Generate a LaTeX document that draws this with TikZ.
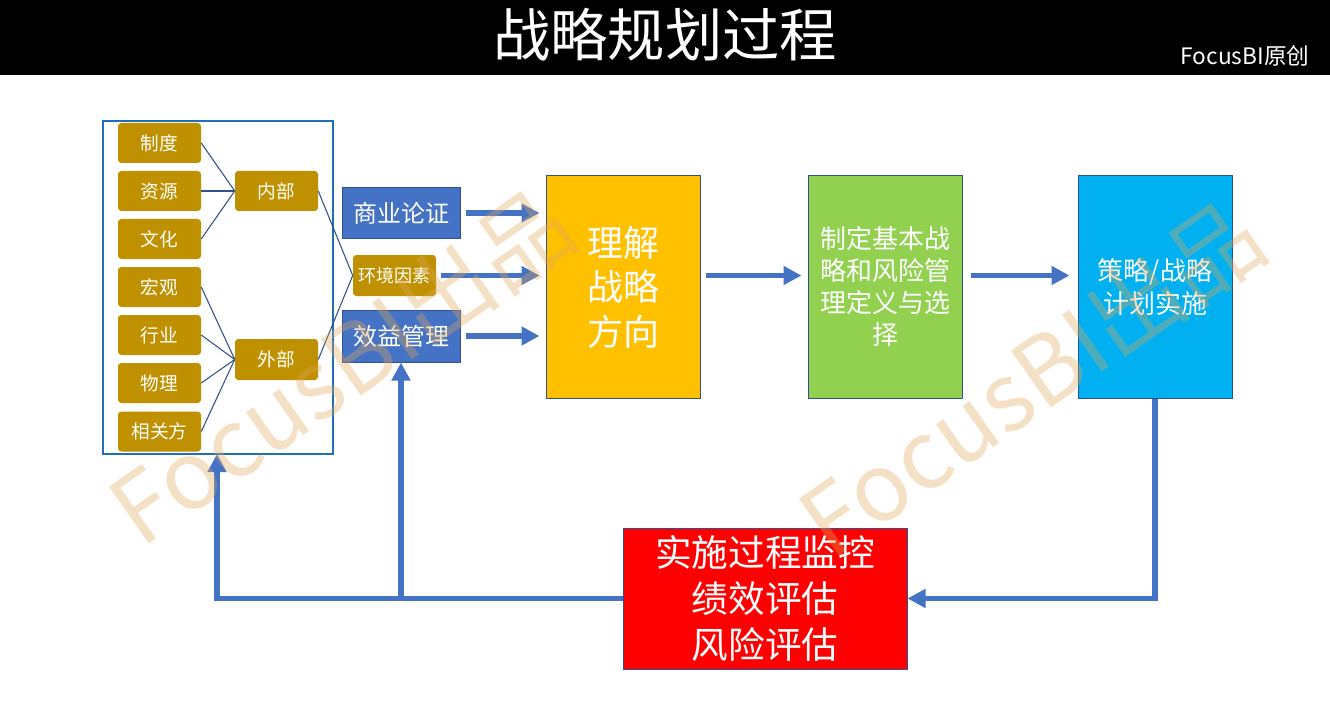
\documentclass[tikz,border=0pt]{standalone}
\usepackage{fontspec}
\setmainfont{Noto Sans CJK SC}
\usetikzlibrary{arrows.meta,calc}
\definecolor{gold}{HTML}{BF9000}
\definecolor{pblue}{HTML}{4472C4}
\definecolor{pdark}{HTML}{2F528F}
\definecolor{cframe}{HTML}{1F70B8}
\definecolor{corange}{HTML}{FFC000}
\definecolor{cgreen}{HTML}{92D050}
\definecolor{ccyan}{HTML}{00B0F0}
\definecolor{cred}{HTML}{FF0000}
\definecolor{wmark}{RGB}{225,168,90}
\tikzset{
  goldbox/.style={fill=gold, rounded corners=2.5pt, text=white, inner sep=0pt,
    minimum width=83*0.75pt, minimum height=40*0.75pt,
    font=\fontsize{14}{16}\selectfont},
  bluebox/.style={fill=pblue, draw=pdark, line width=0.75pt, text=white, inner sep=0pt,
    minimum width=118*0.75pt, minimum height=51*0.75pt,
    font=\fontsize{18}{20}\selectfont},
  bigbox/.style={draw=pdark, line width=0.75pt, text=white, inner sep=0pt, align=center,
    minimum width=154*0.75pt, minimum height=222*0.75pt},
  thin/.style={draw=pdark, line width=0.8pt},
  arr/.style={draw=pblue, line width=4pt, -{Triangle[length=13.5pt,width=13.5pt]}},
  wm/.style={text=wmark, opacity=0.35, rotate=35, inner sep=0pt,
    font=\fontsize{71}{71}\selectfont},
}
\begin{document}
\begin{tikzpicture}[x=0.75pt,y=-0.75pt]
\useasboundingbox (0,0) rectangle (1330,720);
\fill[white] (0,0) rectangle (1330,720);
\fill[black] (0,0) rectangle (1330,75);
\node[text=white, font=\fontsize{43}{46}\selectfont, inner sep=0pt] (title) at (665,35) {战略规划过程};
\node[text=white, font=\fontsize{17}{19}\selectfont, inner sep=0pt] (brand) at (1245,56) {FocusBI原创};

% container
\node[draw=cframe, line width=2pt, minimum width=230*0.75pt, minimum height=333*0.75pt, inner sep=0pt] (cont) at (218,287.5) {};

% left column
\node[goldbox] (z1) at (159.5,143) {制度};
\node[goldbox] (z2) at (159.5,191) {资源};
\node[goldbox] (z3) at (159.5,239) {文化};
\node[goldbox] (z4) at (159.5,287) {宏观};
\node[goldbox] (z5) at (159.5,335) {行业};
\node[goldbox] (z6) at (159.5,383) {物理};
\node[goldbox] (z7) at (159.5,431.5) {相关方};
\node[goldbox] (nb) at (276.5,191) {内部};
\node[goldbox, minimum height=41*0.75pt] (wb) at (276.5,359.5) {外部};
\node[goldbox, minimum height=41*0.75pt, font=\fontsize{13.5}{15}\selectfont] (env) at (394.5,275.5) {环境因素};

\foreach \i in {1,2,3} \draw[thin] (z\i.east) -- (nb.west);
\foreach \i in {4,5,6,7} \draw[thin] (z\i.east) -- (wb.west);
\draw[thin] (nb.east) -- (env.west);
\draw[thin] (wb.east) -- (env.west);

% blue boxes
\node[bluebox] (biz) at (401,213) {商业论证};
\node[bluebox, minimum height=52*0.75pt] (ben) at (401,336) {效益管理};

% big boxes
\node[bigbox, fill=corange, font=\fontsize{27}{33.4}\selectfont] (und) at (623,287) {理解\\战略\\方向};
\node[bigbox, fill=cgreen, font=\fontsize{19.5}{24}\selectfont] (form) at (885,287) {制定基本战\\略和风险管\\理定义与选\\择};
\node[bigbox, fill=ccyan, font=\fontsize{19.5}{24.75}\selectfont] (impl) at (1155,287) {策略/战略\\计划实施};
\node[draw=pdark, line width=0.75pt, fill=cred, text=white, align=center, inner sep=0pt,
  minimum width=284*0.75pt, minimum height=141*0.75pt, font=\fontsize{27.5}{34.5}\selectfont] (mon) at (765,598.5) {实施过程监控\\绩效评估\\风险评估};

% forward arrows
\draw[arr, shorten <=3.75pt, shorten >=4.5pt] (biz.east) -- (biz.east -| und.west);
\draw[arr, shorten <=3.75pt, shorten >=4.5pt] (env.east) -- (env.east -| und.west);
\draw[arr, shorten <=3.75pt, shorten >=4.5pt] (ben.east) -- (ben.east -| und.west);
\draw[arr, shorten <=3.75pt, shorten >=4.5pt] (und.east |- env.east) -- (form.west |- env.east);
\draw[arr, shorten <=6pt, shorten >=6pt] (form.east |- env.east) -- (impl.west |- env.east);

% feedback
\coordinate (lp) at (217,454);
\draw[arr] (impl.south) |- (mon.east);
\draw[arr] (mon.west) -| (lp);
\draw[arr] (mon.west -| ben.south) -- (ben.south);

% watermarks
\node[wm] (wm1) at (341,366) {FocusBI出品};
\node[wm] (wm2) at (1031,378) {FocusBI出品};
\end{tikzpicture}
\end{document}
